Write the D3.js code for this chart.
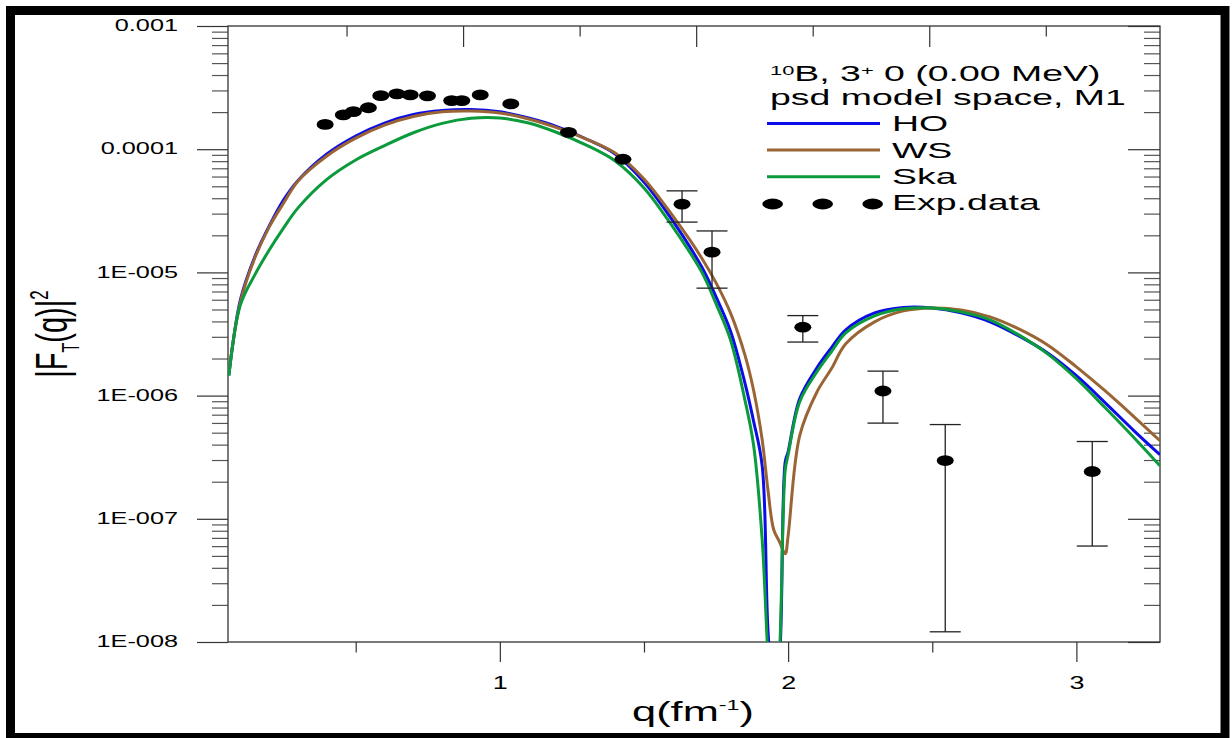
<!DOCTYPE html>
<html>
<head>
<meta charset="utf-8">
<script src="https://cdn.jsdelivr.net/npm/d3@7"></script>
<style>
  body { margin: 0; background: #fff; }
  svg text { font-family: "Liberation Sans", Arial, sans-serif; fill: #000; }
</style>
</head>
<body>
<svg id="chart"></svg>
<script>
// momentum transfer grid shared by the three calculated curves
const qGrid = [0.06, 0.1, 0.15, 0.2, 0.25, 0.3, 0.4, 0.5, 0.6, 0.7, 0.8, 0.9, 1.0, 1.1, 1.2, 1.3, 1.4, 1.5, 1.6, 1.7,
  1.75, 1.8, 1.85, 1.88, 1.91, 1.93, 1.95, 1.97, 1.99, 2.0, 2.04, 2.1, 2.15, 2.2, 2.3, 2.4, 2.5, 2.6, 2.7, 2.8,
  2.9, 3.0, 3.1, 3.2, 3.29];

const hoValues = [1.47e-6, 5.98e-6, 1.34e-5, 2.38e-5, 3.88e-5, 5.58e-5, 9.15e-5, 1.28e-4, 1.63e-4, 1.91e-4,
  2.06e-4, 2.10e-4, 2.01e-4, 1.79e-4, 1.52e-4, 1.21e-4, 9.15e-5, 5.42e-5, 2.62e-5, 1.11e-5,
  6.33e-6, 3.35e-6, 1.27e-6, 6.24e-7, 2.69e-7, 1.26e-8, 3.40e-9, 7.19e-9, 2.90e-7, 3.50e-7,
  9.42e-7, 1.68e-6, 2.44e-6, 3.42e-6, 4.69e-6, 5.20e-6, 5.15e-6, 4.69e-6, 3.97e-6, 3.05e-6,
  2.22e-6, 1.45e-6, 8.74e-7, 5.18e-7, 3.31e-7];

const wsValues = [1.53e-6, 5.77e-6, 1.31e-5, 2.34e-5, 3.66e-5, 5.53e-5, 8.82e-5, 1.23e-4, 1.57e-4, 1.84e-4,
  2.01e-4, 2.04e-4, 1.97e-4, 1.76e-4, 1.49e-4, 1.21e-4, 9.32e-5, 5.74e-5, 2.87e-5, 1.31e-5,
  8.22e-6, 4.69e-6, 2.14e-6, 1.11e-6, 4.38e-7, 1.72e-7, 8.15e-8, 6.51e-8, 5.20e-8, 7.29e-8,
  4.72e-7, 1.07e-6, 1.65e-6, 2.63e-6, 3.97e-6, 4.87e-6, 5.15e-6, 4.96e-6, 4.36e-6, 3.48e-6,
  2.58e-6, 1.71e-6, 1.09e-6, 6.73e-7, 4.30e-7];

const skaValues = [1.45e-6, 5.45e-6, 9.55e-6, 1.52e-5, 2.30e-5, 3.34e-5, 5.69e-5, 8.18e-5, 1.07e-4, 1.36e-4,
  1.62e-4, 1.78e-4, 1.79e-4, 1.63e-4, 1.36e-4, 1.08e-4, 8.03e-5, 4.85e-5, 2.34e-5, 1.01e-5,
  5.55e-6, 2.84e-6, 9.24e-7, 3.99e-7, 6.76e-8, 7.89e-9, 1.94e-9, 7.89e-9, 2.50e-7, 3.31e-7,
  8.90e-7, 1.56e-6, 2.27e-6, 3.23e-6, 4.44e-6, 5.06e-6, 5.15e-6, 4.78e-6, 4.12e-6, 3.11e-6,
  2.18e-6, 1.37e-6, 7.96e-7, 4.55e-7, 2.69e-7];

// experimental points (error bars only where given)
const expQ = [0.394, 0.457, 0.492, 0.544, 0.587, 0.643, 0.689, 0.749, 0.833, 0.868,
  0.932, 1.038, 1.238, 1.427, 1.632, 1.736, 2.051, 2.329, 2.545, 3.055];
const expValues = [1.59e-4, 1.90e-4, 2.02e-4, 2.17e-4, 2.72e-4, 2.81e-4, 2.76e-4, 2.71e-4, 2.48e-4, 2.48e-4,
  2.76e-4, 2.33e-4, 1.37e-4, 8.29e-5, 3.58e-5, 1.46e-5, 3.59e-6, 1.09e-6, 2.97e-7, 2.42e-7];
const expHigh = [null, null, null, null, null, null, null, null, null, null,
  null, null, null, null, 4.59e-5, 2.17e-5, 4.46e-6, 1.58e-6, 5.82e-7, 4.24e-7];
const expLow = [null, null, null, null, null, null, null, null, null, null,
  null, null, null, null, 2.56e-5, 7.45e-6, 2.72e-6, 5.98e-7, 1.21e-8, 6.01e-8];

const seriesNames = ["HO", "WS", "Ska"];
const seriesColors = ["#0c0ce8", "#9a6534", "#0b9a3c"];

const yTickValues = [1e-3, 1e-4, 1e-5, 1e-6, 1e-7, 1e-8];
const yTickLabels = ["0.001", "0.0001", "1E-005", "1E-006", "1E-007", "1E-008"];
const xTickValues = [1, 2, 3];
const xMinorValues = [0.5, 1.5, 2.5];
const topTickValues = [1, 2, 3];
const topMinorValues = [0.5, 1.5, 2.5, 3.5];

const W = 1232, H = 738;
const plot = { left: 228, right: 1160, top: 26, bottom: 642 };

const svg = d3.select("#chart").attr("width", W).attr("height", H);
svg.append("rect").attr("width", W).attr("height", H).attr("fill", "#fff");

const x = d3.scaleLinear().domain([0.057, 3.29]).range([plot.left, plot.right]);
const xTop = d3.scaleLinear().domain([0, 3.99]).range([230, plot.right]);
const y = d3.scaleLog().domain([1e-8, 1e-3]).range([plot.bottom, plot.top]);

svg.append("clipPath").attr("id", "clip")
  .append("rect")
  .attr("x", plot.left).attr("y", plot.top)
  .attr("width", plot.right - plot.left).attr("height", plot.bottom - plot.top);

// minor log ticks 2..9 of every decade
const yMinor = [];
for (let e = -8; e < -3; e++) {
  for (let m = 2; m <= 9; m++) yMinor.push(m * Math.pow(10, e));
}

function styleAxis(g) {
  g.select(".domain").remove();
  g.attr("font-family", null).attr("font-size", null);
  g.selectAll("line").attr("stroke", "#333").attr("stroke-width", 1.2);
}

// left axis
const gLeft = svg.append("g").attr("transform", `translate(${plot.left},0)`)
  .call(d3.axisLeft(y).tickValues(yTickValues).tickSize(31).tickFormat((d, i) => yTickLabels[i]));
styleAxis(gLeft);
gLeft.selectAll("text")
  .attr("x", null).attr("dy", null)
  .attr("font-size", 15.8)
  .attr("text-anchor", "end")
  .attr("transform", "translate(-50,4.7) scale(1.6,1)");

const gLeftMinor = svg.append("g").attr("transform", `translate(${plot.left},0)`)
  .call(d3.axisLeft(y).tickValues(yMinor).tickSize(16).tickFormat(""));
styleAxis(gLeftMinor);
gLeftMinor.selectAll("line").attr("stroke", "#555");

// right axis (ticks inward)
const gRight = svg.append("g").attr("transform", `translate(${plot.right},0)`)
  .call(d3.axisLeft(y).tickValues(yTickValues).tickSize(32).tickFormat(""));
styleAxis(gRight);
const gRightMinor = svg.append("g").attr("transform", `translate(${plot.right},0)`)
  .call(d3.axisLeft(y).tickValues(yMinor).tickSize(16).tickFormat(""));
styleAxis(gRightMinor);
gRightMinor.selectAll("line").attr("stroke", "#555");

// bottom axis
const gBottom = svg.append("g").attr("transform", `translate(0,${plot.bottom})`)
  .call(d3.axisBottom(x).tickValues(xTickValues).tickSize(20).tickFormat(d3.format("d")));
styleAxis(gBottom);
gBottom.selectAll("text")
  .attr("y", null).attr("dy", null)
  .attr("font-size", 18.6)
  .attr("text-anchor", "middle")
  .attr("transform", "translate(0,46.5) scale(1.45,1)");
const gBottomMinor = svg.append("g").attr("transform", `translate(0,${plot.bottom})`)
  .call(d3.axisBottom(x).tickValues(xMinorValues).tickSize(10.5).tickFormat(""));
styleAxis(gBottomMinor);

// top axis, unlabelled, ticks inward
const gTop = svg.append("g").attr("transform", `translate(0,${plot.top})`)
  .call(d3.axisBottom(xTop).tickValues(topTickValues).tickSize(21).tickFormat(""));
styleAxis(gTop);
const gTopMinor = svg.append("g").attr("transform", `translate(0,${plot.top})`)
  .call(d3.axisBottom(xTop).tickValues(topMinorValues).tickSize(10.5).tickFormat(""));
styleAxis(gTopMinor);

// frame of the plot area
svg.append("rect")
  .attr("x", plot.left).attr("y", plot.top)
  .attr("width", plot.right - plot.left).attr("height", plot.bottom - plot.top)
  .attr("fill", "none").attr("stroke", "#333").attr("stroke-width", 1.3);

// calculated curves
const line = d3.line()
  .x(d => x(d.q))
  .y(d => y(d.v))
  .curve(d3.curveCatmullRom.alpha(0.5));

const curves = [hoValues, wsValues, skaValues];
const gCurves = svg.append("g").attr("clip-path", "url(#clip)");
curves.forEach((vals, k) => {
  const pts = qGrid.map((q, i) => ({ q: q, v: vals[i] }));
  gCurves.append("path")
    .datum(pts)
    .attr("fill", "none")
    .attr("stroke", seriesColors[k])
    .attr("stroke-width", 3)
    .attr("stroke-linejoin", "round")
    .attr("d", line);
});

// experimental data
const expData = expQ.map((q, i) => ({ q: q, v: expValues[i], hi: expHigh[i], lo: expLow[i] }));
const gBars = svg.append("g").attr("stroke", "#222").attr("stroke-width", 1.3);
expData.filter(d => d.hi !== null).forEach(d => {
  const cx = x(d.q);
  gBars.append("line").attr("x1", cx).attr("x2", cx).attr("y1", y(d.hi)).attr("y2", y(d.lo));
  gBars.append("line").attr("x1", cx - 15.5).attr("x2", cx + 15.5).attr("y1", y(d.hi)).attr("y2", y(d.hi));
  gBars.append("line").attr("x1", cx - 15.5).attr("x2", cx + 15.5).attr("y1", y(d.lo)).attr("y2", y(d.lo));
});
svg.append("g").selectAll("ellipse")
  .data(expData)
  .enter().append("ellipse")
  .attr("cx", d => x(d.q))
  .attr("cy", d => y(d.v))
  .attr("rx", 8.5)
  .attr("ry", 5.4)
  .attr("fill", "#000");

// text helper: the original lettering is stretched horizontally
function addText(parent, tx, ty, sx, size, anchor) {
  return parent.append("text")
    .attr("transform", `translate(${tx},${ty}) scale(${sx},1)`)
    .attr("font-size", size)
    .attr("text-anchor", anchor || "start");
}

// legend
const legend = svg.append("g");
const title = addText(legend, 770, 80.7, 1.75, 21.4);
title.append("tspan").attr("font-size", 12.5).attr("dy", -5.7).text("10");
title.append("tspan").attr("dy", 5.7).text("B, 3");
title.append("tspan").attr("font-size", 12.5).attr("dy", -5.7).text("+");
title.append("tspan").attr("dy", 5.7).text(" 0 (0.00 MeV)");
addText(legend, 770, 104.5, 1.75, 21.4).text("psd model space, M1");

seriesNames.forEach((name, k) => {
  const ly = 123.5 + k * 26.6;
  legend.append("line")
    .attr("x1", 767).attr("x2", 880).attr("y1", ly).attr("y2", ly)
    .attr("stroke", seriesColors[k]).attr("stroke-width", 3);
  addText(legend, 892, ly + 7.7, 1.75, 21.4).text(name);
});
[772.7, 822.7, 872.7].forEach(cx => {
  legend.append("ellipse").attr("cx", cx).attr("cy", 204).attr("rx", 10.3).attr("ry", 5.4).attr("fill", "#000");
});
addText(legend, 892, 209.5, 1.75, 21.4).text("Exp.data");

// axis titles
const xTitle = addText(svg, 693, 720.5, 1.55, 28, "middle");
xTitle.append("tspan").text("q(fm");
xTitle.append("tspan").attr("font-size", 15).attr("dy", -11).text("-1");
xTitle.append("tspan").attr("dy", 11).text(")");

const yTitle = svg.append("text")
  .attr("transform", "translate(67,334) scale(1.55,1) rotate(-90)")
  .attr("font-size", 29)
  .attr("text-anchor", "middle");
yTitle.append("tspan").text("|F");
yTitle.append("tspan").attr("font-size", 16).attr("dy", 8).text("T");
yTitle.append("tspan").attr("dy", -8).text("(q)|");
yTitle.append("tspan").attr("font-size", 17).attr("dy", -12).text("2");

// outer black border
svg.append("rect")
  .attr("x", 10.5).attr("y", 10.5)
  .attr("width", 1214.5).attr("height", 727)
  .attr("fill", "none").attr("stroke", "#000").attr("stroke-width", 9);
</script>
</body>
</html>
